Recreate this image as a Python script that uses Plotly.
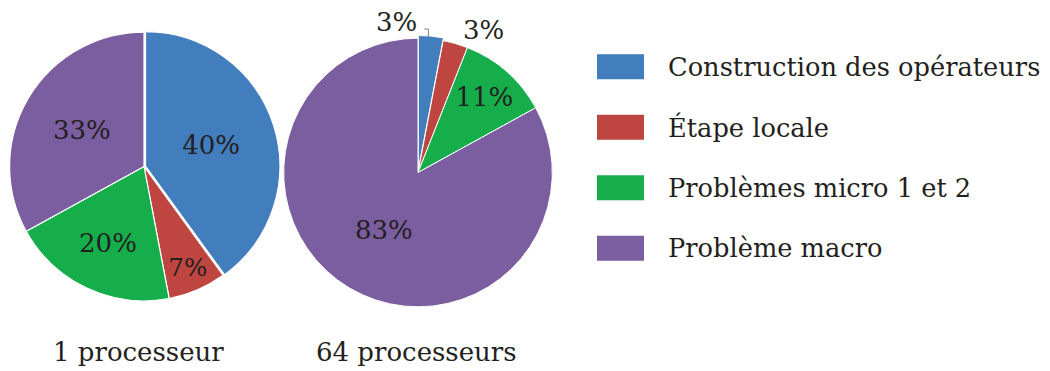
import math
import plotly.graph_objects as go

# page body has an 8px margin: figure is 8px smaller and coords shifted by 8
OFF = 8
W, H = 1050 - OFF, 371 - OFF

categories = ["Construction des opérateurs", "Étape locale",
              "Problèmes micro 1 et 2", "Problème macro"]
colors = ["#427DBE", "#BF4541", "#16AD4B", "#7A5E9F"]
values_1proc = [40, 7, 20, 33]
values_64proc = [3, 3, 11, 83]
pie_titles = ["1 processeur", "64 processeurs"]

FONT = "DejaVu Serif"
TXT = "#231F20"


def px(x):
    return (x - OFF) / W


def py(y):
    return 1 - (y - OFF) / H


def domain(cx, cy, r):
    return dict(x=[px(cx - r), px(cx + r)], y=[py(cy + r), py(cy - r)])


fig = go.Figure()

# ---- left pie
fig.add_trace(go.Pie(
    labels=categories, values=values_1proc, sort=False, direction="clockwise",
    rotation=0, marker=dict(colors=colors, line=dict(color="white", width=1.2)),
    pull=[0.012, 0, 0, 0],
    texttemplate="%{value}%", textinfo="text", textposition="inside",
    insidetextorientation="horizontal",
    textfont=dict(family=FONT, size=26, color=TXT),
    domain=domain(144, 166.5, 136), showlegend=False, hoverinfo="label+value",
))

# ---- right pie
R_CX, R_CY, R_HALF, R_PULL = 418, 172.5, 137, 0.02
fig.add_trace(go.Pie(
    labels=categories, values=values_64proc, sort=False, direction="clockwise",
    rotation=0, marker=dict(colors=colors, line=dict(color="white", width=1)),
    pull=[R_PULL, 0, 0, 0],
    texttemplate="%{value}%", textinfo="text",
    textposition=["none", "outside", "inside", "inside"],
    insidetextorientation="horizontal", automargin=False,
    textfont=dict(family=FONT, size=26, color=TXT),
    domain=domain(R_CX, R_CY, R_HALF), showlegend=False, hoverinfo="label+value",
))

# label of the small first slice of the right pie, with a leader bracket
total = sum(values_64proc)
mid = 2 * math.pi * (values_64proc[0] / 2) / total
xe = R_CX + R_HALF * math.sin(mid)
ye = R_CY - R_HALF * math.cos(mid)
fig.add_shape(type="path", xref="paper", yref="paper",
              path=f"M {px(xe - 2.5)},{py(ye + 1)} L {px(xe - 2.5)},{py(ye - 7)} L {px(xe - 6.5)},{py(ye - 7)}",
              line=dict(color="#7F7F7F", width=1))
fig.add_annotation(x=px(xe - 12), y=py(ye - 14), xref="paper", yref="paper",
                   text=f"{values_64proc[0]}%", showarrow=False,
                   xanchor="right", yanchor="middle",
                   font=dict(family=FONT, size=26, color=TXT))

# pie captions
for t, cx in zip(pie_titles, [138, 416]):
    fig.add_annotation(x=px(cx), y=py(352), xref="paper", yref="paper",
                       text=t, showarrow=False, xanchor="center", yanchor="middle",
                       font=dict(family=FONT, size=26, color=TXT))

# legend
leg_y0, leg_dy = 66.7, 60.5
for i, (c, col) in enumerate(zip(categories, colors)):
    yc = leg_y0 + i * leg_dy
    fig.add_shape(type="rect", xref="paper", yref="paper",
                  x0=px(597), x1=px(644), y0=py(yc + 12.5), y1=py(yc - 12.5),
                  fillcolor=col, line=dict(width=0))
    fig.add_annotation(x=px(666), y=py(yc), xref="paper", yref="paper",
                       text=c, showarrow=False, xanchor="left", yanchor="middle",
                       font=dict(family=FONT, size=25.7, color=TXT))

fig.update_layout(width=W, height=H, margin=dict(l=0, r=0, t=0, b=0, autoexpand=False),
                  paper_bgcolor="white", plot_bgcolor="white")

fig.write_html("out.html")
